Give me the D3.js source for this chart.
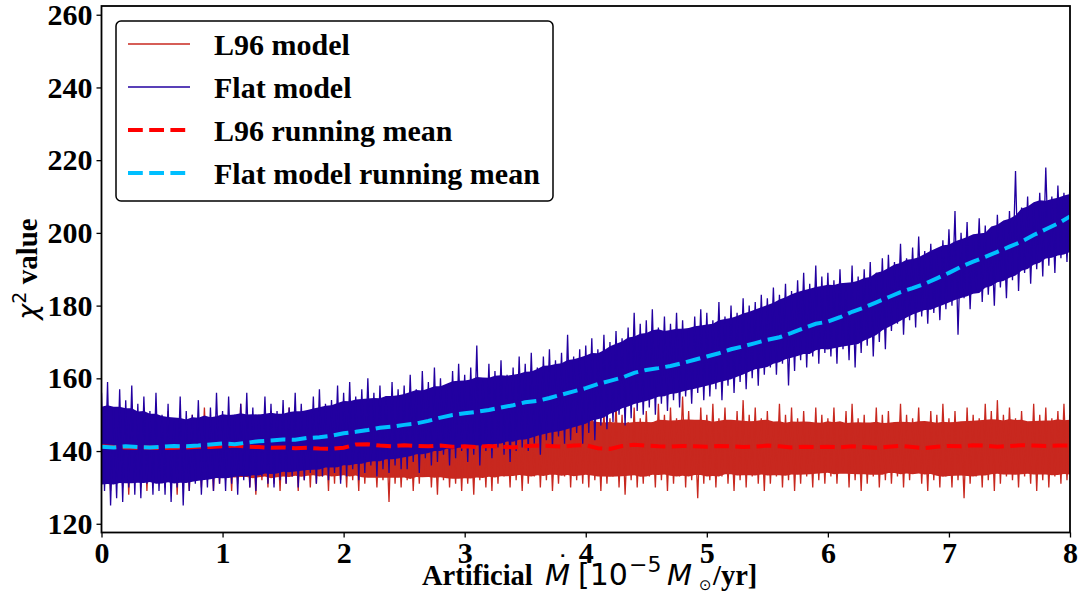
<!DOCTYPE html>
<html><head><meta charset="utf-8">
<script src="https://cdn.jsdelivr.net/npm/d3@7"></script>
<style>body{margin:0;background:#fff}svg{display:block}</style>
</head><body>
<svg id="c" width="1079" height="594"></svg>
<script>
// x axis: artificial Mdot, sampled every 0.05 (10^-5 Msun/yr)
const binStep = 0.05;
const meanStep = 0.1;
const xTicks = [0,1,2,3,4,5,6,7,8];
const yTicks = [120,140,160,180,200,220,240,260];

// Flat model: upper / lower spike tips per bin
const flatHi = [156,159,152,157,154,158,153,155,151,156,
 150,153,149,155,151,150,154,149,152,156,
 151,155,150,153,156,152,150,155,153,151,
 154,152,156,153,151,155,157,153,154,158,
 156,159,155,157,160,156,158,155,159,157,
 158,161,157,162,159,163,160,158,162,164,
 161,163,169,160,164,162,165,161,163,166,
 164,167,163,166,168,165,167,172,166,168,
 169,171,168,172,170,173,171,174,178,175,
 176,179,174,177,175,178,176,173,177,179,
 178,176,181,177,180,178,182,180,181,183,
 182,185,183,186,184,187,189,186,191,188,
 189,187,190,186,191,188,190,192,189,193,
 194,192,197,193,196,199,195,197,194,198,
 201,206,200,203,199,204,202,200,205,203,
 206,217,207,210,208,211,218,210,213,211,214];
const flatLo = [129,125,127,126,130,128,127,131,128,129,
 128,126,130,125,129,131,128,130,129,131,
 129,131,128,132,130,129,133,131,130,132,
 131,133,130,132,134,131,133,132,134,131,
 133,135,132,134,136,133,135,134,136,135,
 135,137,134,138,136,137,139,136,138,140,
 137,139,136,140,138,141,139,137,140,141,
 140,142,139,143,141,144,142,143,145,142,
 145,143,147,146,148,150,147,149,151,150,
 152,150,153,151,154,152,155,153,156,154,
 155,157,154,158,156,159,157,160,158,161,
 163,161,164,158,162,165,163,166,164,167,
 166,164,168,165,163,167,169,166,170,168,
 173,175,172,176,174,177,175,178,176,179,
 180,172,182,179,184,181,183,180,185,182,
 187,184,189,186,190,188,191,189,193,192,196];

// L96 model: upper / lower spike tips per bin
const l96Hi = [149,146,151,147,150,148,146,152,147,149,
 148,151,147,149,146,150,148,152,147,149,
 150,147,149,153,148,146,150,148,151,147,
 149,152,148,150,147,149,151,148,150,153,
 148,150,147,151,149,146,150,148,152,149,
 147,150,148,151,149,147,150,152,148,150,
 149,147,151,148,150,153,149,147,151,148,
 150,148,152,149,151,147,150,153,149,151,
 150,152,148,151,149,153,150,148,152,149,
 151,148,153,150,152,149,155,151,148,152,
 150,153,149,152,148,151,154,150,152,149,
 151,148,153,150,152,149,151,148,152,150,
 149,152,148,151,153,149,150,147,152,150,
 151,148,153,150,149,152,148,151,150,153,
 149,151,148,152,150,149,153,151,154,150,
 152,149,151,148,153,150,152,149,151,153,150];
const l96Lo = [131,129,133,130,128,132,130,129,131,133,
 130,132,128,131,129,133,130,132,129,131,
 132,129,131,133,130,128,132,130,131,129,
 131,133,129,132,130,131,133,129,131,132,
 130,132,129,131,133,130,132,126,131,130,
 132,129,131,133,130,128,132,130,131,129,
 131,128,132,130,129,131,133,130,132,129,
 131,133,130,132,129,131,133,130,132,131,
 130,132,129,131,133,130,128,132,130,131,
 133,130,132,129,131,133,130,132,127,131,
 132,130,133,131,129,132,130,133,131,129,
 131,133,130,132,129,131,133,130,132,131,
 133,131,134,130,132,129,131,133,130,132,
 131,133,130,132,134,131,129,132,130,133,
 130,132,127,131,133,130,132,129,131,133,
 132,130,133,131,129,132,130,133,131,132,130];

// running means, every 0.1
const l96Mean = [141.3,141.1,141.0,140.9,141.0,140.8,140.9,141.0,141.2,141.1,
 141.3,141.5,141.2,141.1,140.9,141.0,140.8,140.9,140.7,140.6,
 140.9,141.8,141.9,141.5,141.3,141.6,141.4,141.3,141.5,141.2,
 141.3,141.1,141.4,141.2,141.0,141.3,141.5,141.4,141.2,141.5,
 141.6,140.8,140.6,141.4,141.7,141.5,141.3,141.2,141.4,141.3,
 141.2,141.4,141.3,141.1,141.2,141.5,141.3,141.0,141.2,141.1,
 141.2,141.0,141.3,141.1,140.9,141.2,141.4,141.1,140.8,141.2,
 141.4,141.3,141.6,141.5,141.2,141.4,141.6,141.5,141.4,141.5,141.5];
const flatMean = [141.2,141.0,141.3,141.1,141.0,141.2,141.4,141.3,141.5,141.8,
 142.1,141.9,142.3,142.7,142.9,143.2,143.1,143.6,143.8,144.2,
 144.9,145.3,145.8,146.4,146.7,147.2,147.6,148.3,149.2,149.9,
 150.4,150.8,151.3,152.0,152.6,153.4,153.8,154.6,155.5,156.4,
 157.3,158.4,159.3,160.2,161.5,162.3,162.8,163.4,164.2,165.1,
 166.0,166.9,168.0,168.8,169.7,170.6,171.3,172.5,173.8,175.0,
 175.6,176.8,178.3,179.5,180.9,182.3,183.7,184.8,186.0,187.5,
 189.0,190.7,192.1,193.4,194.8,196.2,197.6,199.4,201.0,202.6,204.5];

const legendLabels = ["L96 model","Flat model","L96 running mean","Flat model running mean"];
const colors = {l96:"#c8281f", flat:"#2200a0", l96Mean:"#ff0000", flatMean:"#00bfff"};

const svg = d3.select("#c");
const L=101.5, R=1070, T=6, B=532.5;
const x = d3.scaleLinear().domain([0,8]).range([L,R]);
const y = d3.scaleLinear().domain([117.6,262.4]).range([B,T]);
const serif = "'Liberation Serif','Times New Roman',serif";
const sans = "'DejaVu Sans',sans-serif";

svg.append("defs").append("clipPath").attr("id","clip")
  .append("rect").attr("x",L).attr("y",T).attr("width",R-L).attr("height",B-T);
const g = svg.append("g").attr("clip-path","url(#clip)");

function drawNoise(hi, lo, color){
  const n = hi.length, w = 4;
  // dense core of the noise band: smoothed local spread of the spike tips
  const core = d3.range(n).map(i=>{
    const a=Math.max(0,i-w), b=Math.min(n-1,i+w);
    const mh=d3.mean(hi.slice(a,b+1)), ml=d3.mean(lo.slice(a,b+1)), s=mh-ml;
    return {x:i*binStep, top:mh-0.12*s, bot:ml+0.12*s};
  });
  g.append("path").datum(core)
    .attr("d", d3.area().x(d=>x(d.x)).y0(d=>y(d.bot)).y1(d=>y(d.top)))
    .attr("fill",color);
  const pts=[];
  for(let i=0;i<n;i++){ pts.push([i*binStep,hi[i]]); pts.push([i*binStep+binStep/2,lo[i]]); }
  g.append("path").datum(pts)
    .attr("d", d3.line().x(d=>x(d[0])).y(d=>y(d[1])))
    .attr("fill","none").attr("stroke",color).attr("stroke-width",1.3).attr("stroke-linejoin","miter");
}
drawNoise(l96Hi,l96Lo,colors.l96);
drawNoise(flatHi,flatLo,colors.flat);

function drawMean(arr,color){
  g.append("path").datum(arr)
    .attr("d", d3.line().x((d,i)=>x(i*meanStep)).y(d=>y(d)))
    .attr("fill","none").attr("stroke",color).attr("stroke-width",4)
    .attr("stroke-dasharray","14.8,6.4");
}
drawMean(l96Mean,colors.l96Mean);
drawMean(flatMean,colors.flatMean);

// axes
const xa = svg.append("g").attr("transform",`translate(0,${B})`)
  .call(d3.axisBottom(x).tickValues(xTicks).tickFormat(d3.format("d")).tickSizeOuter(0).tickSize(5).tickPadding(4));
const ya = svg.append("g").attr("transform",`translate(${L},0)`)
  .call(d3.axisLeft(y).tickValues(yTicks).tickFormat(d3.format("d")).tickSizeOuter(0).tickSize(5).tickPadding(4));
[xa,ya].forEach(a=>{
  a.select(".domain").remove();
  a.selectAll(".tick line").attr("stroke","#000").attr("stroke-width",1.3);
  a.selectAll(".tick text").attr("font-family",serif).attr("font-weight","bold").attr("font-size",30).attr("fill","#000");
});
svg.append("rect").attr("x",L).attr("y",T).attr("width",R-L).attr("height",B-T)
  .attr("fill","none").attr("stroke","#000").attr("stroke-width",1.8);

// legend
const lg = svg.append("g");
lg.append("rect").attr("x",116).attr("y",21).attr("width",437).attr("height",180).attr("rx",5)
  .attr("fill","#fff").attr("stroke","#000").attr("stroke-width",1.5);
const lstyles = [
  {c:colors.l96,w:1.6,d:null},{c:colors.flat,w:1.6,d:null},
  {c:colors.l96Mean,w:4,d:"14.8,6.4"},{c:colors.flatMean,w:4,d:"14.8,6.4"}];
legendLabels.forEach((t,i)=>{
  const yy = 44 + i*43;
  const ln = lg.append("line").attr("x1",128).attr("x2",190).attr("y1",yy).attr("y2",yy)
    .attr("stroke",lstyles[i].c).attr("stroke-width",lstyles[i].w);
  if(lstyles[i].d) ln.attr("stroke-dasharray",lstyles[i].d);
  lg.append("text").attr("x",214).attr("y",yy+11).text(t)
    .attr("font-family",serif).attr("font-weight","bold").attr("font-size",30);
});

// x label
const xb = 585;
const xl = svg.append("text").attr("y",xb).attr("font-size",28.5);
xl.append("tspan").attr("x",422).attr("font-family",serif).attr("font-weight","bold").text("Artificial");
xl.append("tspan").attr("x",545).attr("font-family",sans).attr("font-style","italic").attr("font-size",29).text("M");
xl.append("tspan").attr("x",578).attr("font-family",sans).attr("font-size",30).text("[10");
xl.append("tspan").attr("x",629).attr("font-family",sans).attr("font-size",22).attr("dy",-13).text("−5");
xl.append("tspan").attr("x",667).attr("font-family",sans).attr("font-style","italic").attr("font-size",29).attr("dy",13).text("M");
xl.append("tspan").attr("x",699).attr("font-family",sans).attr("font-size",15).attr("dy",5).text("⊙");
xl.append("tspan").attr("x",713).attr("font-family",serif).attr("font-weight","bold").attr("dy",-5).text("/yr]");
svg.append("text").attr("x",556).attr("y",575).attr("font-family",sans).attr("font-size",27).text("˙");

// y label
const yl = svg.append("text").attr("transform","translate(37,269) rotate(-90)").attr("text-anchor","middle").attr("font-size",29);
yl.append("tspan").attr("font-family",sans).attr("font-style","italic").attr("font-size",27).text("χ");
yl.append("tspan").attr("font-family",sans).attr("font-size",19).attr("dy",-11).text("2");
yl.append("tspan").attr("font-family",serif).attr("font-weight","bold").attr("dy",11).text(" value");
</script>
</body></html>
